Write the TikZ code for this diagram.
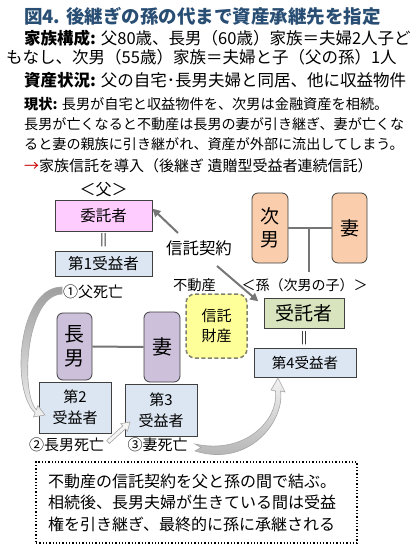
\documentclass[tikz,border=0pt]{standalone}
\usepackage{fontspec}
\setmainfont{Noto Sans CJK JP}
\usetikzlibrary{arrows.meta,calc}
\definecolor{titleblue}{RGB}{41,78,116}
\definecolor{pinkfill}{RGB}{255,204,255}
\definecolor{bluefill}{RGB}{220,230,242}
\definecolor{peach}{RGB}{250,206,172}
\definecolor{purplefill}{RGB}{204,192,218}
\definecolor{greenfill}{RGB}{215,228,189}
\definecolor{yellowfill}{RGB}{255,255,153}
\definecolor{boxline}{RGB}{64,64,64}
\definecolor{linegray}{RGB}{118,118,118}
\definecolor{dashcol}{RGB}{128,128,110}
\definecolor{arrred}{RGB}{204,0,0}
\newcommand{\fsz}[2]{\fontsize{#1pt}{#2pt}\selectfont}
\begin{document}
\begin{tikzpicture}[x=1pt,y=-1pt,
  rect/.style={draw=boxline, line width=0.8pt, inner sep=0pt, align=center},
  pill/.style={draw=boxline, line width=0.8pt, rounded corners=6pt, inner sep=0pt, align=center},
  lbl/.style={inner sep=0pt},
  hdr/.style={inner sep=0pt, anchor=west},
  conn/.style={draw=linegray, line width=2pt},
  garrow/.style={draw=linegray, line width=2pt, -{Triangle[length=8pt,width=8pt]}},
  blockarrow/.style={draw=gray!70, line width=0.6pt}]
\fill[white] (0,0) rectangle (419,551);
\useasboundingbox (0,0) rectangle (419,551);

% header text
\node[hdr, font=\fsz{18.5}{22}\bfseries, text=titleblue] (title) at (24,16) {図4. 後継ぎの孫の代まで資産承継先を指定};
\node[hdr, font=\fsz{16.5}{20}] (l2) at (24,38) {\textbf{家族構成:} 父80歳、長男（60歳）家族＝夫婦2人子ど};
\node[hdr, font=\fsz{16.5}{20}] (l3) at (6,57) {もなし、次男（55歳）家族＝夫婦と子（父の孫）1人};
\node[hdr, font=\fsz{16.5}{20}] (l4) at (24,80) {\textbf{資産状況:} 父の自宅･長男夫婦と同居、他に収益物件};
\node[hdr, font=\fsz{14.2}{17}] (l5) at (24,104) {\textbf{現状:} 長男が自宅と収益物件を、次男は金融資産を相続。};
\node[hdr, font=\fsz{14.1}{17}] (l6) at (24,124) {長男が亡くなると不動産は長男の妻が引き継ぎ、妻が亡くな};
\node[hdr, font=\fsz{14.1}{17}] (l7) at (24,144) {ると妻の親族に引き継がれ、資産が外部に流出してしまう。};
\node[hdr, font=\fsz{15}{18}] (l8) at (24,166) {\textcolor{arrred}{→}家族信託を導入（後継ぎ 遺贈型受益者連続信託）};

% father side
\node[lbl, font=\fsz{16}{19}] (chichi) at (103.5,190) {＜父＞};
\node[rect, fill=pinkfill, minimum width=97, minimum height=31, font=\fsz{15.5}{18}] (itaku) at (103.5,215.5) {委託者};
\node[lbl, font=\fsz{12}{14}] (eq1) at (103.5,240.5) {||};
\node[rect, fill=bluefill, minimum width=97, minimum height=25, font=\fsz{15.5}{18}] (ben1) at (103.5,263.5) {第1受益者};

% second son family
\node[pill, fill=peach, minimum width=36, minimum height=70, font=\fsz{19}{23}] (jinan) at (270,228) {次\\男};
\node[pill, fill=peach, minimum width=35, minimum height=70, font=\fsz{19}{23}] (tsumaR) at (349.5,228) {妻};
\coordinate (jct) at (309,228);
\coordinate (jct2) at (309,272);
\draw[conn] (jinan.east) -- (tsumaR.west);
\draw[conn] (jct) -- (jct2);
\node[lbl, font=\fsz{14}{17}] (mago) at (304.5,285) {＜孫（次男の子）＞};
\node[rect, fill=greenfill, minimum width=80, minimum height=30, font=\fsz{19}{23}] (jutaku) at (304,313) {受託者};
\node[lbl, font=\fsz{12}{14}] (eq2) at (304,338) {||};
\node[rect, fill=bluefill, minimum width=102, minimum height=29, font=\fsz{14.5}{17}] (ben4) at (305,362.5) {第4受益者};

% trust contract
\node[pill, fill=yellowfill, draw=dashcol, line width=1.5pt, dash pattern=on 4pt off 2.5pt, rounded corners=9pt, minimum width=61, minimum height=64, font=\fsz{15}{20}] (zaisan) at (216.5,326) {信託\\財産};
\node[lbl, font=\fsz{14.3}{17}] (fudosan) at (194.5,285) {不動産};
\node[lbl, font=\fsz{16.4}{19}] (keiyaku) at (199,248) {信託契約};
\coordinate (k1) at (178,233);
\coordinate (k2) at (217,266);
\draw[garrow] (k1) -- (itaku.8);
\draw[garrow, shorten >=7pt] (k2) -- (jutaku.170);

% eldest son family
\node[pill, fill=purplefill, minimum width=35, minimum height=67, font=\fsz{20}{24}] (chonan) at (74.5,346.5) {長\\男};
\node[pill, fill=purplefill, minimum width=36, minimum height=70, font=\fsz{20}{24}] (tsumaL) at (162,347) {妻};
\draw[conn] (chonan.east) -- (tsumaL.west);
\node[rect, fill=bluefill, minimum width=72, minimum height=51, font=\fsz{15}{21}] (ben2) at (75,407.5) {第2\\受益者};
\node[rect, fill=bluefill, minimum width=72, minimum height=52, font=\fsz{15}{21}] (ben3) at (161,410) {第3\\受益者};

\node[lbl, font=\fsz{15}{18}] (d1) at (93,292) {①父死亡};
\node[lbl, font=\fsz{15}{18}] (d2) at (66.5,445) {②長男死亡};
\node[lbl, font=\fsz{15}{18}] (d3) at (157.5,445) {③妻死亡};

% curved block arrows
\path[blockarrow, top color=gray!75, bottom color=gray!12]
  (62,287) .. controls (18,287) and (10,390) .. (35.1,412.8)
  -- (33.5,416.9) -- (45,415) -- (37.9,405.7) -- (36.3,409.8)
  .. controls (20,392) and (26,295) .. (62,294) -- cycle;
\path[blockarrow, fill=gray!8]
  (109.3,443.5) -- (125.4,428.9) -- (127.5,431.1) -- (130,422)
  -- (120.7,423.7) -- (122.8,425.9) -- (106.7,440.5) -- cycle;
\path[blockarrow, top color=gray!10, bottom color=gray!65]
  (195,451) .. controls (250,468) and (285,420) .. (280.5,391)
  -- (285,392) -- (278,378) -- (271,390) -- (275.5,391)
  .. controls (279,420) and (245,455) .. (195,444) -- (201,447.5) -- cycle;

% note box
\node[draw=black, dotted, line width=1.3pt, minimum width=321, minimum height=81,
  text width=297, inner xsep=12pt, align=left, font=\fsz{16}{21.5}] (note) at (196.5,502.5)
  {不動産の信託契約を父と孫の間で結ぶ。\\相続後、長男夫婦が生きている間は受益\\権を引き継ぎ、最終的に孫に承継される};
\end{tikzpicture}
\end{document}
